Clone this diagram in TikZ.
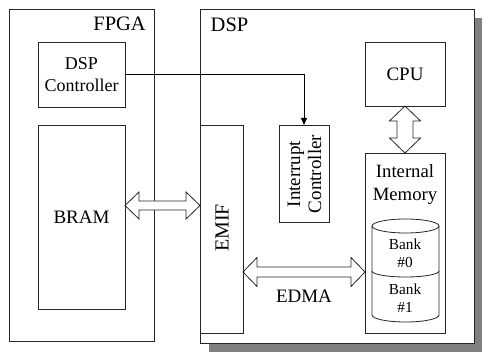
\documentclass[tikz,border=0pt]{standalone}
\usepackage{fontspec}
\setmainfont{Liberation Serif}
\usetikzlibrary{arrows.meta,calc}
\tikzset{
  blk/.style={draw=black!85, line width=0.8pt, inner sep=0pt, outer sep=0pt, align=center,
    font=\fontsize{19}{22}\selectfont},
  lbl/.style={inner sep=0pt, align=center, font=\fontsize{19}{22}\selectfont},
  biglbl/.style={inner sep=0pt, font=\fontsize{20.5}{24}\selectfont},
  banklbl/.style={inner sep=0pt, align=center, font=\fontsize{15.3}{18}\selectfont},
  hollow/.style={draw=black!85, line width=0.8pt, fill=white, line join=miter},
  sig/.style={draw=black, line width=0.8pt, -{Triangle[length=7pt,width=6pt]}},
}
\newcommand\hdarrow[5]{% left, right, shaft half, head half, head length
  \path[hollow] let \p1=#1, \p2=#2 in
  (\x1,\y1) -- (\x1+#5,\y1+#4) -- (\x1+#5,\y1+#3) -- (\x2-#5,\y1+#3) -- (\x2-#5,\y1+#4)
  -- (\x2,\y1) -- (\x2-#5,\y1-#4) -- (\x2-#5,\y1-#3) -- (\x1+#5,\y1-#3) -- (\x1+#5,\y1-#4) -- cycle;}
\newcommand\vdarrow[5]{% top, bottom, shaft half, head half, head length
  \path[hollow] let \p1=#1, \p2=#2 in
  (\x1,\y1) -- (\x1+#4,\y1-#5) -- (\x1+#3,\y1-#5) -- (\x1+#3,\y2+#5) -- (\x1+#4,\y2+#5)
  -- (\x1,\y2) -- (\x1-#4,\y2+#5) -- (\x1-#3,\y2+#5) -- (\x1-#3,\y1-#5) -- (\x1-#4,\y1-#5) -- cycle;}
\begin{document}
\begin{tikzpicture}[x=1pt,y=-1pt]
\useasboundingbox (0,0) rectangle (483,353);
% FPGA
\node[blk, minimum width=145pt, minimum height=332pt] (fpga) at (81.5,175) {};
\node[biglbl, anchor=base east] (fpgalbl) at (146,31) {FPGA};
% DSP with shadow
\fill[black!50] (209,18) rectangle (482,352);
\node[blk, fill=white, minimum width=274pt, minimum height=334pt] (dsp) at (337,176) {};
\node[biglbl, anchor=base west] (dsplbl) at (210.5,31.5) {DSP};
% FPGA blocks
\node[blk, font=\fontsize{18}{22}\selectfont, minimum width=87pt, minimum height=65pt] (dspctrl) at (81.5,74.5) {DSP\\Controller};
\node[blk, minimum width=87pt, minimum height=184pt] (bram) at (81.5,217) {BRAM};
% DSP blocks
\node[blk, minimum width=43pt, minimum height=208pt] (emif) at (221.5,229) {};
\node[lbl, rotate=90, font=\fontsize{20}{22}\selectfont] (emiflbl) at (222,228) {EMIF};
\node[blk, minimum width=50pt, minimum height=97pt] (intc) at (304,173.5) {};
\node[lbl, rotate=90, font=\fontsize{19}{21}\selectfont] (intclbl) at (304.5,174) {Interrupt\\Controller};
\node[blk, minimum width=80pt, minimum height=64pt] (cpu) at (405,74) {CPU};
\node[blk, minimum width=80pt, minimum height=180pt] (intmem) at (405,243) {};
\node[lbl, font=\fontsize{18.7}{23}\selectfont] (intmemlbl) at (405,185) {Internal\\Memory};
% cylinder
\draw[black!85, line width=0.8pt] (405.5,226) ellipse [x radius=33.5pt, y radius=7pt];
\draw[black!85, line width=0.8pt] (372,226) -- (372,315)
  arc[start angle=180, end angle=360, x radius=33.5pt, y radius=7pt] -- (439,226);
\draw[black!85, line width=0.8pt] (372,271)
  arc[start angle=180, end angle=360, x radius=33.5pt, y radius=6pt];
\node[banklbl] (bank0) at (405,253.5) {Bank\\\#0};
\node[banklbl] (bank1) at (405,298.5) {Bank\\\#1};
% signal
\draw[sig] (dspctrl.east) -| (intc.north);
% hollow arrows
\coordinate (ba1) at (bram.east |- 0,205.5);
\coordinate (ba2) at (emif.west |- 0,205.5);
\hdarrow{(ba1)}{(ba2)}{4.5pt}{13.5pt}{14pt}
\coordinate (ea1) at (emif.east |- 0,272);
\coordinate (ea2) at (intmem.west |- 0,272);
\hdarrow{(ea1)}{(ea2)}{5pt}{14.5pt}{14pt}
\node[lbl] (edma) at (304,296) {EDMA};
\vdarrow{(cpu.south)}{(intmem.north)}{8pt}{15.5pt}{15pt}
\end{tikzpicture}
\end{document}
